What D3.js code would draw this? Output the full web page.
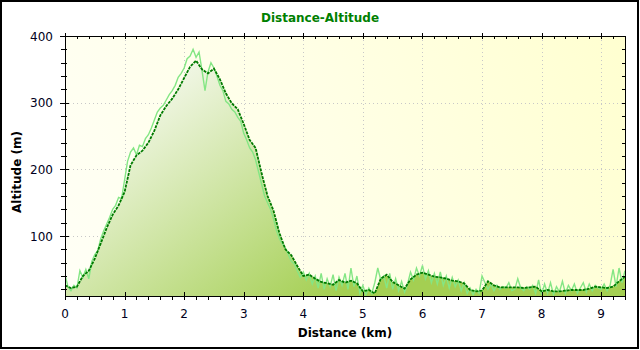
<!DOCTYPE html>
<html><head><meta charset="utf-8">
<script src="https://cdn.jsdelivr.net/npm/d3@7"></script>
<style>body{margin:0;background:#fff}svg{display:block}text{font-family:Tahoma,"DejaVu Sans","Liberation Sans",Arial,sans-serif}</style>
</head><body><svg id="c" width="640" height="350"></svg>
<script>
const title = "Distance-Altitude";
const xTitle = "Distance (km)";
const yTitle = "Altitude (m)";
const xTicks = [0,1,2,3,4,5,6,7,8,9];
const yTicks = [100,200,300,400];
const xDomain = [0, 9.4];
const yDomain = [10, 400];
const smoothStep = 0.1;
const smoothAlt = [26,22,24,40,48,66,89,112,132,146,166,206,221,228,240,258,281,295,306,320,337,354,363,350,344,351,335,314,299,290,268,244,232,194,160,138,104,80,71,55,40,42,36,31,29,27,34,30,33,29,17,19,14,36,42,31,26,21,35,42,45,42,39,38,36,33,32,29,19,17,18,32,26,23,23,23,23,22,23,24,17,19,17,17,18,19,19,19,21,24,23,22,24,32,39];
const rawStep = 0.05;
const rawAlt = [42,24,18,26,22,48,38,50,36,62,72,78,96,108,118,128,140,146,158,156,184,212,226,232,222,236,234,246,252,262,274,286,292,296,304,312,318,326,338,344,352,366,370,380,368,376,348,318,346,360,352,340,326,318,302,298,290,286,278,272,254,244,232,226,214,196,178,160,150,140,126,108,96,88,82,72,62,58,48,38,46,34,44,28,40,22,44,20,36,24,42,18,38,26,44,20,52,24,40,14,26,12,22,14,30,52,34,40,22,44,20,36,18,32,16,28,46,34,52,40,56,36,48,30,44,28,46,26,40,22,38,24,34,18,30,14,22,12,20,14,40,30,20,28,18,26,20,24,22,30,18,20,36,22,18,24,20,26,14,34,12,28,14,30,12,24,16,32,14,26,18,28,14,22,30,16,28,18,26,22,20,28,18,26,50,24,52,30,48];

const svg = d3.select("#c");
const L=65, R=625, T=36, B=296;
const x = d3.scaleLinear().domain(xDomain).range([L,R]);
const y = d3.scaleLinear().domain(yDomain).range([B,T]);

const defs = svg.append("defs");
const bg = defs.append("linearGradient").attr("id","bg").attr("gradientUnits","userSpaceOnUse")
  .attr("x1",L).attr("y1",B).attr("x2",R).attr("y2",T);
bg.append("stop").attr("offset","0").attr("stop-color","#fffff6");
bg.append("stop").attr("offset","0.5").attr("stop-color","#ffffe6");
bg.append("stop").attr("offset","1").attr("stop-color","#ffffd0");
const ag = defs.append("linearGradient").attr("id","ag").attr("gradientUnits","userSpaceOnUse")
  .attr("x1",150).attr("y1",70).attr("x2",330).attr("y2",300);
ag.append("stop").attr("offset","0").attr("stop-color","#f6f9ef");
ag.append("stop").attr("offset","1").attr("stop-color","#a4cf52");
const clip = defs.append("clipPath").attr("id","clip");
clip.append("rect").attr("x",L).attr("y",T).attr("width",R-L).attr("height",B-T);

svg.append("rect").attr("x",1).attr("y",1).attr("width",637).attr("height",347)
  .attr("fill","#fff").attr("stroke","#000").attr("stroke-width",2);
svg.append("rect").attr("x",L).attr("y",T).attr("width",R-L).attr("height",B-T).attr("fill","url(#bg)");

// grid
const g = svg.append("g");
xTicks.filter(d=>d>0).forEach(d=>{
  g.append("line").attr("x1",Math.round(x(d))+0.5).attr("x2",Math.round(x(d))+0.5).attr("y1",T).attr("y2",B)
   .attr("stroke","#c8c8c8").attr("stroke-dasharray","1,3");
});
yTicks.filter(d=>d<400).forEach(d=>{
  g.append("line").attr("y1",Math.round(y(d))+0.5).attr("y2",Math.round(y(d))+0.5).attr("x1",L).attr("x2",R)
   .attr("stroke","#c8c8c8").attr("stroke-dasharray","1,3");
});

const smooth = smoothAlt.map((v,i)=>[i*smoothStep, v]);
const raw = rawAlt.map((v,i)=>[i*rawStep, v]);
const plot = svg.append("g").attr("clip-path","url(#clip)");
plot.append("path").datum(smooth)
  .attr("d", d3.area().x(d=>x(d[0])).y0(B).y1(d=>y(d[1])))
  .attr("fill","url(#ag)");
plot.append("path").datum(raw)
  .attr("d", d3.line().x(d=>x(d[0])).y(d=>y(d[1])))
  .attr("fill","none").attr("stroke","#84e684").attr("stroke-width",1.4);
plot.append("path").datum(smooth)
  .attr("d", d3.line().x(d=>x(d[0])).y(d=>y(d[1])))
  .attr("fill","none").attr("stroke","#007a00").attr("stroke-width",1.8).attr("stroke-dasharray","3,1");

// axes
const minorX = d3.range(0, 9.41, 0.2);
const minorY = d3.range(20, 401, 20);
const ax = svg.append("g").attr("stroke","#000").attr("shape-rendering","crispEdges");
minorX.forEach(d=>{
  const px = Math.round(x(d))+0.5;
  ax.append("line").attr("x1",px).attr("x2",px).attr("y1",B).attr("y2",B+4);
  ax.append("line").attr("x1",px).attr("x2",px).attr("y1",T).attr("y2",T+3);
});
xTicks.forEach(d=>{
  const px = Math.round(x(d))+0.5;
  ax.append("line").attr("x1",px).attr("x2",px).attr("y1",B-4).attr("y2",B+4);
  ax.append("line").attr("x1",px).attr("x2",px).attr("y1",T-3).attr("y2",T);
});
minorY.forEach(d=>{
  const py = Math.round(y(d))+0.5;
  ax.append("line").attr("x1",L-4).attr("x2",L+2).attr("y1",py).attr("y2",py);
  ax.append("line").attr("x1",R-3).attr("x2",R).attr("y1",py).attr("y2",py);
});
yTicks.forEach(d=>{
  const py = Math.round(y(d))+0.5;
  ax.append("line").attr("x1",L-5).attr("x2",L+4).attr("y1",py).attr("y2",py);
});
svg.append("rect").attr("x",L+0.5).attr("y",T+0.5).attr("width",R-L).attr("height",B-T)
  .attr("fill","none").attr("stroke","#000").attr("shape-rendering","crispEdges");

svg.append("g").selectAll("text").data(xTicks).join("text")
  .attr("x",d=>x(d)).attr("y",318).attr("text-anchor","middle")
  .attr("font-size",12).attr("fill","#000020").text(d=>d);
svg.append("g").selectAll("text").data(yTicks).join("text")
  .attr("x",53).attr("y",d=>y(d)+4.5).attr("text-anchor","end")
  .attr("font-size",12).attr("fill","#000020").text(d=>d);

svg.append("text").attr("x",320).attr("y",22).attr("text-anchor","middle")
  .attr("font-size",12).attr("font-weight","bold").attr("fill","#008000").text(title);
svg.append("text").attr("x",345).attr("y",337).attr("text-anchor","middle")
  .attr("font-size",12).attr("font-weight","bold").attr("fill","#000").text(xTitle);
svg.append("text").attr("transform","translate(21,172) rotate(-90)").attr("text-anchor","middle")
  .attr("font-size",12).attr("font-weight","bold").attr("fill","#000").text(yTitle);
</script></body></html>
